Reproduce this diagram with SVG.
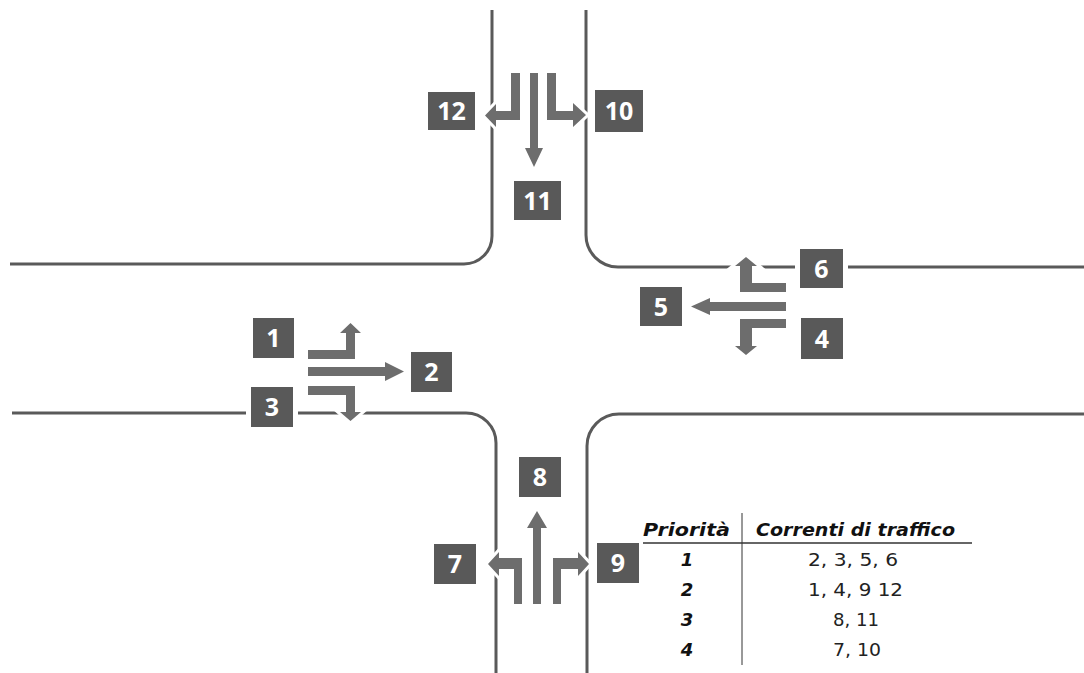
<svg xmlns="http://www.w3.org/2000/svg" width="1084" height="673" viewBox="0 0 1084 673">
<style>
.road{fill:none;stroke:#5a5a5a;stroke-width:3}
.arr{fill:#6d6d6d;stroke:#fff;stroke-width:6;paint-order:stroke;stroke-linejoin:miter}
.lbl rect{fill:#595959;stroke:#fff;stroke-width:10;paint-order:stroke}
.lbl text{fill:#fff;font-family:"Open Sans","Noto Sans",sans-serif;font-weight:bold;font-size:25px;text-anchor:middle}
.th{font-family:"DejaVu Sans",Verdana,sans-serif;font-weight:bold;font-style:italic;font-size:18px;fill:#111}
.td{font-family:"DejaVu Sans",Verdana,sans-serif;font-size:18px;fill:#222;text-anchor:middle}
.tl{stroke:#333;fill:none}
</style>
<rect width="1084" height="673" fill="#fff"/>
<g id="roads">
<path class="road" d="M10,264 H464 A28,28 0 0 0 492,236 V10"/>
<path class="road" d="M586,10 V235 A32,32 0 0 0 618,267 H1084"/>
<path class="road" d="M12,413 H466 A30,30 0 0 1 496,443 V673"/>
<path class="road" d="M1084,414 H619 A32,32 0 0 0 587,446 V673"/>
</g>
<g id="connectors">
<path id="a12" class="arr" d="M511,73 H520 V120 H496 V127 L485,115.5 L496,104 V111 H511 Z"/>
<path id="a11" class="arr" d="M530,73 H538 V148 H543 L534,167 L525,148 H530 Z"/>
<path id="a10" class="arr" d="M547,73 H556 V111 H573 V103 L586,115 L573,127 V120 H547 Z"/>
<path id="a6" class="arr" d="M786,283 V292 H740 V266 H735 L746,257 L757,266 H752 V283 Z"/>
<path id="a5" class="arr" d="M786,302 V311 H710 V315 L691,306.5 L710,298 V302 Z"/>
<path id="a4" class="arr" d="M786,319 V328 H752 V346 H757 L746,355 L735,346 H740 V319 Z"/>
<path id="a1" class="arr" d="M308,350 H346 V333 H340 L350.5,323 L361,333 H355 V359 H308 Z"/>
<path id="a2" class="arr" d="M308,367 H385 V362 L404,371.5 L385,381 V376 H308 Z"/>
<path id="a3" class="arr" d="M308,386 H355 V412 H361 L350.5,421 L340,412 H346 V395 H308 Z"/>
<path id="a8" class="arr" d="M533,604 V528 H527 L537,511 L547,528 H541 V604 Z"/>
<path id="a7" class="arr" d="M522,604 V558 H499 V552 L488,564 L499,576 V569 H514 V604 Z"/>
<path id="a9" class="arr" d="M553,604 V558 H578 V552 L589,564 L578,576 V569 H561 V604 Z"/>
</g>
<g id="n12" class="lbl"><rect x="428" y="92" width="47" height="38"/><text x="451.5" y="120">12</text></g>
<g id="n10" class="lbl"><rect x="595" y="90" width="48" height="42"/><text x="619" y="120">10</text></g>
<g id="n11" class="lbl"><rect x="514" y="181" width="47" height="39"/><text x="537.5" y="209.5">11</text></g>
<g id="n6" class="lbl"><rect x="800" y="249" width="43" height="39"/><text x="821.5" y="277.5">6</text></g>
<g id="n5" class="lbl"><rect x="640" y="287" width="42" height="39"/><text x="661" y="315.5">5</text></g>
<g id="n4" class="lbl"><rect x="801" y="318" width="42" height="41"/><text x="822" y="347.5">4</text></g>
<g id="n1" class="lbl"><rect x="253" y="318" width="41" height="40"/><text x="273.5" y="347">1</text></g>
<g id="n2" class="lbl"><rect x="411" y="352" width="41" height="40"/><text x="431.5" y="381">2</text></g>
<g id="n3" class="lbl"><rect x="251" y="387" width="42" height="40"/><text x="272" y="416">3</text></g>
<g id="n8" class="lbl"><rect x="519" y="457" width="42" height="40"/><text x="540" y="486">8</text></g>
<g id="n7" class="lbl"><rect x="434" y="544" width="42" height="40"/><text x="455" y="573">7</text></g>
<g id="n9" class="lbl"><rect x="597" y="543" width="42" height="40"/><text x="618" y="572">9</text></g>
<g id="table">
<line class="tl" x1="643" y1="543" x2="972" y2="543" stroke-width="1.5"/>
<line class="tl" x1="742" y1="513" x2="742" y2="665" stroke-width="1"/>
<text class="th" x="643" y="536" textLength="87" lengthAdjust="spacingAndGlyphs">Priorità</text>
<text class="th" x="756" y="536" textLength="199" lengthAdjust="spacingAndGlyphs">Correnti di traffico</text>
<text class="th" x="687" y="566" text-anchor="middle">1</text>
<text class="th" x="687" y="596" text-anchor="middle">2</text>
<text class="th" x="687" y="626" text-anchor="middle">3</text>
<text class="th" x="687" y="656" text-anchor="middle">4</text>
<text class="td" x="853" y="566" textLength="90" lengthAdjust="spacingAndGlyphs">2, 3, 5, 6</text>
<text class="td" x="855.5" y="596" textLength="95" lengthAdjust="spacingAndGlyphs">1, 4, 9 12</text>
<text class="td" x="856" y="626" textLength="46" lengthAdjust="spacingAndGlyphs">8, 11</text>
<text class="td" x="857" y="656" textLength="48" lengthAdjust="spacingAndGlyphs">7, 10</text>
</g>
</svg>
